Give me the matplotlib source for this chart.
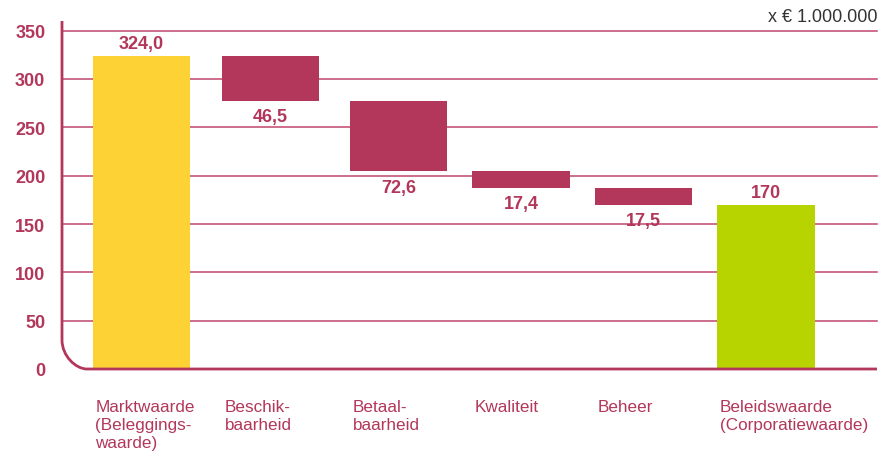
import numpy as np
import matplotlib
matplotlib.use('Agg')
import matplotlib.pyplot as plt
from matplotlib.path import Path
from matplotlib.patches import PathPatch
import matplotlib.transforms as mtransforms

plt.rcParams['font.family'] = ['Liberation Sans', 'DejaVu Sans']

# data
categories = ['Marktwaarde\n(Beleggings-\nwaarde)', 'Beschik-\nbaarheid', 'Betaal-\nbaarheid',
              'Kwaliteit', 'Beheer', 'Beleidswaarde\n(Corporatiewaarde)']
start_value = 324.0
decreases = [46.5, 72.6, 17.4, 17.5]
end_value = 170.0
value_labels = ['324,0', '46,5', '72,6', '17,4', '17,5', '170']
yticks = [0, 50, 100, 150, 200, 250, 300, 350]

maroon = '#b2375a'
yellow = '#fdd235'
green = '#b8d400'
grid_c = '#c0466e'

fig = plt.figure(figsize=(8.81, 4.52), dpi=100)
ax = fig.add_axes([62/881, (452-370)/452, (877-62)/881, (370-22)/452])
xmin, xmax = -0.637, 5.89
ax.set_xlim(xmin, xmax)
ax.set_ylim(0, 360)
for s in ax.spines.values():
    s.set_visible(False)

# waterfall geometry
level = start_value
tops = [start_value]
bottoms = [0]
for d in decreases:
    tops.append(level)
    bottoms.append(level - d)
    level = level - d
tops.append(end_value)
bottoms.append(0)
tops = np.array(tops)
bottoms = np.array(bottoms)
x = np.array([0, 1.034, 2.06, 3.04, 4.02, 5.0])  # bar slots (uneven in the original)
colors = [yellow] + [maroon]*len(decreases) + [green]
w = 0.78

# grid
for yv in yticks[1:]:
    ax.plot([xmin, xmax], [yv, yv], color=grid_c, lw=1.1, zorder=1, clip_on=False)

ax.bar(x, tops - bottoms, bottom=bottoms, width=w, color=colors, zorder=2)

# axis with rounded corner
rx, ry = 0.2, 30
k = 0.45
verts = [(xmin, 360), (xmin, ry), (xmin, ry*k), (xmin + rx*(1-k), 0), (xmin + rx, 0), (xmax, 0)]
codes = [Path.MOVETO, Path.LINETO, Path.CURVE4, Path.CURVE4, Path.CURVE4, Path.LINETO]
ax.add_patch(PathPatch(Path(verts, codes), fill=False, edgecolor=maroon, lw=2, zorder=3, clip_on=False))

# ticks
ax.set_xticks([])
ax.set_yticks(yticks)
ax.tick_params(axis='y', length=0, pad=12, labelcolor=maroon)
for t in ax.get_yticklabels():
    t.set_fontsize(13)
    t.set_fontweight('bold')

# value labels
for i in range(len(x)):
    if i == 0 or i == len(x) - 1:
        ax.text(x[i], tops[i] + 4, value_labels[i], ha='center', va='bottom',
                fontsize=13, fontweight='bold', color=maroon)
    else:
        ax.text(x[i], bottoms[i] - 8, value_labels[i], ha='center', va='top',
                fontsize=13, fontweight='bold', color=maroon)

# category labels
trans = mtransforms.blended_transform_factory(ax.transData, ax.transAxes)
for i in range(len(x)):
    ax.text(x[i] - w/2 + 0.02, -0.085, categories[i], transform=trans, ha='left', va='top',
            fontsize=12.3, color=maroon, linespacing=1.25)

fig.text(877/881, 1 - 22/452, 'x € 1.000.000', ha='right', va='baseline', fontsize=13, color='#333333')

plt.savefig('out.png', dpi=100)
